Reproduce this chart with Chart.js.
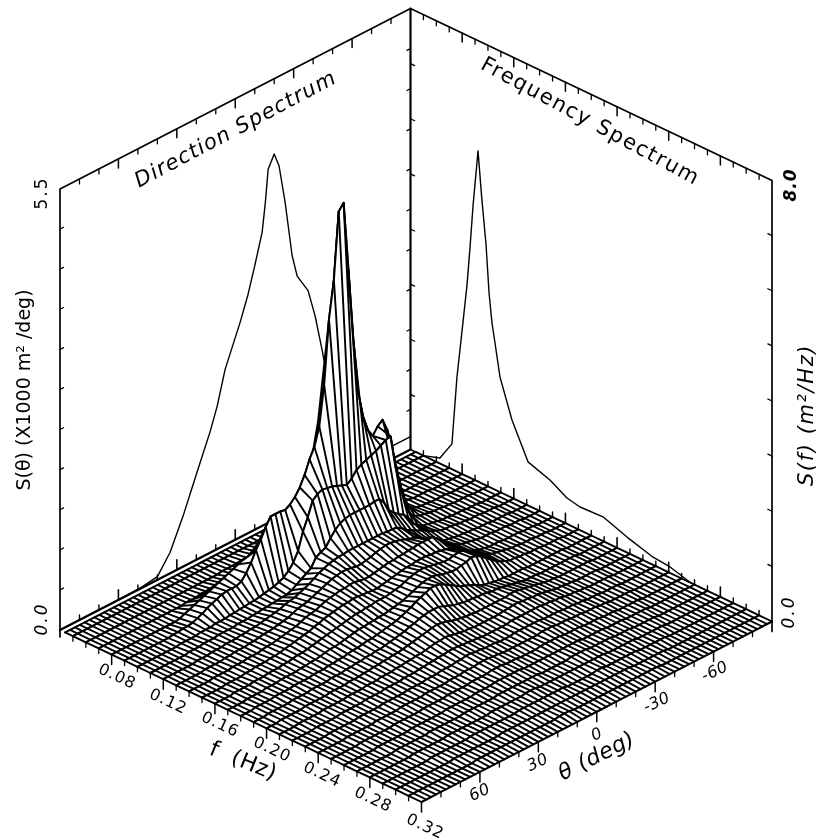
<!DOCTYPE html>
<html><head><meta charset="utf-8">
<style>html,body{margin:0;padding:0;background:#fff}canvas{display:block}</style>
<script src="https://cdn.jsdelivr.net/npm/chart.js@4/dist/chart.umd.min.js"></script>
</head><body><canvas id="c" width="821" height="840"></canvas>
<script>
// frequency rows (Hz) and direction columns (deg) of the surface
const fRows=[0.044,0.05,0.06,0.07,0.08,0.09,0.10,0.11,0.12,0.13,0.14,0.15,0.16,0.17,0.18,0.19,0.20,0.21,0.22,0.23,0.24,0.25,0.26,0.27,0.28,0.29,0.30,0.31,0.32];
const thetaCols=[90,87.5,85,82.5,80,77.5,75,72.5,70,67.5,65,62.5,60,57.5,55,52.5,50,47.5,45,42.5,40,37.5,35,32.5,30,27.5,25,22.5,20,17.5,15,12.5,10,7.5,5,2.5,0,-2.5,-5,-7.5,-10,-12.5,-15,-17.5,-20,-22.5,-25,-27.5,-30,-32.5,-35,-37.5,-40,-42.5,-45,-47.5,-50,-52.5,-55,-57.5,-60,-62.5,-65,-67.5,-70,-72.5,-75,-77.5,-80,-82.5,-85,-87.5,-90];
// surface heights, one list per frequency row, θ = 90 … -90 (wall full scale = 441)
const s00=[];
const s01=[0,0,0,0,0,0,0,0,0,0, 0,0,0,0,0,0,0,0,0,0, 0,0,0,0,0,0,0,0,0,0, 0,0,0,0,0,0,0,0,0,1, 1,1,1,2,2,2,2,1,1,1, 1];
const s02=[0,0,0,0,0,0,0,0,0,0, 0,0,0,0,0,0,0,0,0,0, 0,0,0,0,0,0,0,0,1,1, 1,1,2,2,3,3,4,5,6,7, 8,10,12,14,15,14,10,7,5,3, 2,2,1,1,1];
const s03=[0,0,0,0,0,0,0,0,0,0, 0,0,0,0,0,0,0,0,1,1, 1,2,2,2,3,3,3,4,4,5, 6,7,8,9,10,12,14,16,18,20, 22,26,30,35,40,42,36,28,22,17, 12,9,6,4,3,2,2,1,1,1, 1];
const s04=[0,0,0,0,0,0,0,0,0,0, 0,0,0,0,1,3,5,7,9,11, 13,15,17,19,21,23,25,27,28,29, 30,31,31,32,35,38,42,48,55,62, 75,90,110,130,150,160,135,105,80,60, 48,50,55,58,55,40,22,10,5,3, 2,2,1,1,1,1];
const s05=[0,0,0,0,0,0,0,0,0,0, 1,1,2,2,3,5,7,10,12,14, 16,17,17,17,19,25,33,43,51,61, 69,69,69,68,71,76,83,93,106,116, 134,173,236,273,339,345,275,203,148,121, 105,97,104,108,95,73,45,23,10,5, 3,2,2,1,1,1,1];
const s06=[0,0,0,0,0,0,0,0,0,1, 1,1,1,2,2,2,3,3,3,4, 4,5,5,6,6,7,8,9,10,12, 14,18,24,33,50,62,76,80,82,81, 80,78,76,74,78,84,87,89,91,93, 96,99,100,67,46,24,12,8,6,5, 4,3,3,2,2,1,1,1,1];
const s07=[0,0,0,0,0,0,0,0,1,1, 1,2,2,2,3,3,3,3,4,4, 4,5,5,6,6,7,7,8,8,10, 13,16,19,22,30,33,35,42,48,52, 54,55,55,55,55,55,56,56,50,40, 35,31,28,22,14,10,7,6,5,4, 3,3,2,2,2,1,1,1];
const s08=[0,0,0,0,0,0,0,1,1,1, 2,2,2,3,3,3,4,4,5,5, 6,7,8,9,10,12,13,14,16,18, 20,23,26,28,30,31,32,32,33,33, 33,33,33,33,33,33,32,32,31,28, 24,21,18,16,13,10,8,6,5,5, 4,3,3,2,2,2,1,1,1];
const s09=[0,0,0,0,0,0,1,1,1,1, 2,2,3,3,3,4,4,5,6,6, 7,8,9,10,12,14,15,16,18,20, 22,24,26,27,28,28,27,26,26,27, 28,30,31,32,32,31,30,28,26,25, 22,18,15,12,9,7,6,5,4,4, 3,3,2,2,2,1,1,1,1];
const s10=[0,0,0,0,0,1,1,1,1,2, 2,2,3,3,3,4,5,5,6,7, 8,9,10,12,14,15,16,18,20,21, 22,23,23,24,24,23,22,22,23,24, 25,26,26,27,27,28,28,29,29,29, 29,25,20,16,12,9,7,6,5,4, 3,3,3,2,2,2,1,1,1];
const s11=[0,0,0,0,0,1,1,1,1,2, 2,3,3,3,4,4,5,6,7,8, 9,10,11,13,14,16,17,18,19,20, 20,21,21,20,20,19,19,20,21,22, 23,24,25,25,26,26,26,25,25,24, 23,21,18,15,12,9,7,5,4,3, 3,3,2,2,2,2,1,1,1];
const s12=[0,0,0,0,1,1,1,1,2,2, 2,3,3,3,4,4,5,6,6,7, 8,9,10,11,12,13,14,15,16,17, 17,18,18,19,19,19,20,21,22,24, 26,27,28,28,27,26,25,24,24,25, 26,25,22,19,15,12,9,7,6,5, 4,3,3,2,2,2,1,1,1];
const s13=[0,0,0,0,1,1,1,1,2,2, 2,3,3,3,3,4,4,5,5,6, 7,8,8,9,10,11,12,13,13,14, 14,15,15,16,17,18,19,21,23,25, 27,28,28,27,25,24,23,23,24,25, 27,26,23,19,15,11,8,6,4,4, 3,3,2,2,2,1,1,1,1];
const s14=[0,0,0,1,1,1,1,2,2,2, 2,3,3,3,3,4,4,4,5,5, 6,6,7,8,8,9,10,10,11,12, 13,14,15,17,19,21,24,26,28,30, 30,29,26,23,20,17,15,13,11,8, 6,5,4,3,3,2,2,2,2,1, 1,1,1,1,1,1,1];
const s15=[0,0,0,1,1,1,1,1,2,2, 2,2,3,3,3,3,4,4,4,5, 5,6,6,7,7,8,8,9,10,11, 12,13,15,16,18,19,20,20,20,18, 16,14,13,12,11,11,10,10,9,8, 8,7,6,5,4,3,2,2,2,1, 1,1,1,1,1,1,1];
const s16=[0,0,0,1,1,1,1,1,2,2, 2,2,2,3,3,3,3,4,4,4, 5,5,6,6,7,7,8,8,9,10, 11,12,13,14,15,16,15,14,12,11, 10,9,9,8,8,8,8,8,8,8, 9,9,8,7,6,5,4,3,2,2, 1,1,1,1,1,1,1];
const s17=[0,0,0,0,1,1,1,1,1,2, 2,2,2,2,3,3,3,3,4,4, 4,5,5,5,6,6,7,7,8,8, 9,10,11,11,12,11,10,9,8,8, 7,7,7,7,7,7,8,8,9,9, 8,8,7,7,6,5,4,3,3,2, 2,1,1,1,1,1];
const s18=[0,0,0,0,0,1,1,1,1,1, 2,2,2,2,2,3,3,3,3,4, 4,4,4,5,5,5,6,6,7,7, 8,8,9,9,9,8,8,7,7,6, 6,6,6,6,6,7,7,7,7,7, 7,7,6,6,5,5,4,3,3,2, 2,1,1,1,1,1];
const s19=[0,0,0,0,0,1,1,1,1,1, 1,2,2,2,2,2,3,3,3,3, 3,4,4,4,4,5,5,5,6,6, 6,7,7,8,8,7,7,6,6,6, 5,5,5,6,6,6,6,6,6,5, 5,5,5,4,4,4,3,3,2,2, 2,1,1,1,1];
const s20=[0,0,0,0,0,0,1,1,1,1, 1,1,2,2,2,2,2,3,3,3, 3,3,4,4,4,4,4,5,5,5, 6,6,6,7,7,7,6,6,5,5, 5,5,5,5,5,5,6,6,6,5, 5,5,4,4,4,3,3,3,2,2, 1,1,1,1,1];
const s21=[0,0,0,0,0,0,1,1,1,1, 1,1,1,2,2,2,2,2,2,3, 3,3,3,3,4,4,4,4,4,5, 5,5,5,6,6,6,5,5,5,4, 4,4,4,5,5,5,5,5,4,4, 4,4,3,3,3,3,2,2,2,1, 1,1,1,1];
const s22=[0,0,0,0,0,0,0,1,1,1, 1,1,1,1,2,2,2,2,2,2, 2,3,3,3,3,3,3,4,4,4, 4,5,5,5,5,5,5,4,4,4, 4,4,4,4,4,4,4,4,4,3, 3,3,3,3,2,2,2,2,1,1, 1,1,1];
const s23=[0,0,0,0,0,0,0,0,1,1, 1,1,1,1,1,2,2,2,2,2, 2,2,3,3,3,3,3,3,3,4, 4,4,4,4,4,4,4,4,3,3, 3,3,3,3,4,4,4,4,3,3, 3,3,3,2,2,2,2,1,1,1, 1,1];
const s24=[0,0,0,0,0,0,0,0,0,1, 1,1,1,1,1,1,2,2,2,2, 2,2,2,2,2,3,3,3,3,3, 3,3,4,4,4,3,3,3,3,3, 3,3,3,3,3,3,3,3,3,2, 2,2,2,2,2,1,1,1,1,1, 1];
const s25=[0,0,0,0,0,0,0,0,0,0, 1,1,1,1,1,1,1,1,2,2, 2,2,2,2,2,2,2,2,3,3, 3,3,3,3,3,3,3,3,2,2, 2,2,2,2,3,3,2,2,2,2, 2,2,2,1,1,1,1,1,1];
const s26=[0,0,0,0,0,0,0,0,0,0, 0,0,1,1,1,1,1,1,1,1, 1,1,2,2,2,2,2,2,2,2, 2,2,2,2,2,2,2,2,2,2, 2,2,2,2,2,2,2,2,2,1, 1,1,1,1,1,1];
const s27=[0,0,0,0,0,0,0,0,0,0, 0,0,0,0,1,1,1,1,1,1, 1,1,1,1,1,1,1,1,1,1, 1,2,2,2,1,1,1,1,1,1, 1,1,1,1,1,1,1,1,1,1, 1,1];
const s28=[];
const surface=[s00,s01,s02,s03,s04,s05,s06,s07,s08,s09,s10,s11,s12,s13,s14,s15,s16,s17,s18,s19,s20,s21,s22,s23,s24,s25,s26,s27,s28];

// projection on the walls: direction spectrum S(θ), ×1000 m²/deg
const dirTheta=[90,60,48,40,33.5,26.8,19.6,12.9,9.3,5.2,-2.5,-6.6,-10.2,-13.8,-15.4,-16.9,-20,-22.5,-25.6,-29.2,-31.8,-37.4,-41,-44.6,-46.7,-52,-60,-70,-80,-90];
const dirValue=[0,0,0.01,0.04,0.26,0.63,1.09,1.51,1.78,2.19,2.68,2.98,3.31,3.66,4.0,4.41,4.56,4.38,3.89,3.18,2.89,2.64,2.28,1.81,1.51,1.0,0.6,0.3,0.16,0.16];
// frequency spectrum S(f), m²/Hz
const freqF=[0.04,0.05,0.0628,0.0721,0.076,0.0806,0.0838,0.0861,0.0884,0.0923,0.0953,0.0985,0.1008,0.1031,0.1054,0.1093,0.1186,0.131,0.148,0.1612,0.1713,0.1891,0.2077,0.2279,0.2411,0.257];
const freqValue=[0,0,0.10,0.46,1.72,2.75,3.48,4.18,4.95,6.0,5.15,4.37,3.53,3.0,2.67,2.09,1.41,0.79,0.65,0.47,0.42,0.44,0.28,0.14,0.11,0];

const fMajorTicks=[0.08,0.12,0.16,0.20,0.24,0.28,0.32];
const fMinorTicks=[0.05,0.06,0.07,0.09,0.10,0.11,0.13,0.14,0.15,0.17,0.18,0.19,0.21,0.22,0.23,0.25,0.26,0.27,0.29,0.30,0.31];
const thetaMajorTicks=[60,30,0,-30,-60];
const thetaMinorTicks=[80,70,50,40,20,10,-10,-20,-40,-50,-70,-80];
const sThetaTicks=[0.5,1,1.5,2,2.5,3,3.5,4,4.5,5];
const sFreqTicks=[1,2,3,4,5,6,7];

const WALL=441, SDIR=WALL/5.5, SFREQ=WALL/8;
function P(f,t,z){const u=(f-0.04)/0.28,v=(90-t)/180;return {x:60+361.5*u+350.5*v,y:630+172*u-180.5*v-(z||0)};}
const GAP={x:NaN,y:NaN};
const ds=[];
function line(data,w){ds.push({type:'scatter',showLine:true,data,borderColor:'#000',borderWidth:w,pointRadius:0,fill:false,tension:0,borderCapStyle:'round',borderJoinStyle:'round'});}
function poly(data){ds.push({type:'scatter',showLine:true,data,borderColor:'rgba(0,0,0,0)',borderWidth:0,pointRadius:0,backgroundColor:'#fff',fill:'shape',tension:0});}
function ticks(list,fn){const a=[];list.forEach(t=>{a.push(...fn(t),GAP);});return a;}

// walls
line([P(0.04,90,-7),P(0.04,90,WALL),P(0.04,-90,WALL),P(0.32,-90,WALL),P(0.32,-90,-10)],1.7);
line([P(0.04,-90,0),P(0.04,-90,WALL)],2.2);
line([P(0.04,90,0),P(0.04,-90,0)],2.4);
line(ticks(thetaMajorTicks,t=>[P(0.04,t,WALL),P(0.04,t,WALL-9)]),1.5);
line(ticks(thetaMinorTicks,t=>[P(0.04,t,WALL),P(0.04,t,WALL-5)]),1.3);
line(ticks(fMajorTicks.slice(0,6),f=>[P(f,-90,WALL),P(f,-90,WALL-9)]),1.5);
line(ticks(fMinorTicks,f=>[P(f,-90,WALL),P(f,-90,WALL-5)]),1.3);
line(ticks(thetaMajorTicks,t=>[P(0.04,t,0),P(0.04,t,10)]),1.6);
line(ticks(thetaMinorTicks,t=>[P(0.04,t,0),P(0.04,t,5)]),1.4);
line(ticks(fMajorTicks.slice(0,6),f=>[P(f,-90,0),P(f,-90,10)]),1.6);
line(ticks(fMinorTicks,f=>[P(f,-90,0),P(f,-90,5)]),1.4);
line(ticks(sThetaTicks,s=>[P(0.04,90,s*SDIR),P(0.04,88.2,s*SDIR)]),1.3);
line(ticks(sThetaTicks,s=>[P(0.04,-90,s*SDIR),P(0.04,-88.2,s*SDIR)]),1.3);
line(ticks(sFreqTicks,s=>[P(0.04,-90,s*SFREQ),P(0.0432,-90,s*SFREQ)]),1.3);
line(ticks(sFreqTicks,s=>[P(0.32,-90,s*SFREQ),P(0.3168,-90,s*SFREQ)]),1.3);
// wall spectra
line(dirTheta.map((t,i)=>P(0.04,t,dirValue[i]*SDIR)),1.4);
line(freqF.map((f,i)=>P(f,-90,freqValue[i]*SFREQ)),1.4);

// hidden-line surface, back to front
const Z=(i,c)=>surface[i][c]||0;
const rowPts=(i)=>thetaCols.map((t,c)=>P(fRows[i],t,Z(i,c)));
for(let i=0;i<fRows.length-1;i++){
  const a=rowPts(i),b=rowPts(i+1);
  poly(a.concat(b.slice().reverse()));
  const h=[];a.forEach((p,c)=>{h.push(p,b[c],GAP);});
  line(h,1.9);
  line(a,2);
  line(b,2);
}
// edge ticks at the front of the floor
line(ticks(fMajorTicks,f=>[P(f,90,0),P(f,90,-10)]),1.5);
line(ticks(fMinorTicks,f=>[P(f,90,0),P(f,90,-5)]),1.3);
line(ticks(thetaMajorTicks,t=>[P(0.32,t,0),P(0.32,t,-10)]),1.5);
line(ticks(thetaMinorTicks,t=>[P(0.32,t,0),P(0.32,t,-5)]),1.3);

const labels=[
 ['Direction Spectrum',236,130,-28,'oblique 21px "DejaVu Sans"','1.2px'],
 ['Frequency Spectrum',590,122,28.5,'21px "DejaVu Sans"','1.6px'],
 ['S(θ) (X1000 m² /deg)',25,390,-90,'19px "DejaVu Sans"','0px'],
 ['S(f) (m²/Hz)',808,415,-90,'oblique 21px "DejaVu Sans"','1.6px'],
 ['5.5',43,193,-90,'17px "DejaVu Sans"','2px'],
 ['0.0',43,619,-90,'oblique 17px "DejaVu Sans"','2px'],
 ['8.0',792,185,-90,'bold oblique 17px "DejaVu Sans"','1px'],
 ['0.0',790,612,-90,'oblique 17px "DejaVu Sans"','2px'],
 ['0.08',117,677,25,'16px "DejaVu Sans"','1px'],
 ['0.12',168,702,25,'16px "DejaVu Sans"','1px'],
 ['0.16',220,725,25,'16px "DejaVu Sans"','1px'],
 ['0.20',272,750,25,'16px "DejaVu Sans"','1px'],
 ['0.24',322,775,25,'16px "DejaVu Sans"','1px'],
 ['0.28',373,800,25,'16px "DejaVu Sans"','1px'],
 ['0.32',425,827,25,'16px "DejaVu Sans"','1px'],
 ['f  (Hz)',243,762,22,'22px "DejaVu Sans"','0.5px'],
 ['60',480,793,-25,'oblique 16px "DejaVu Sans"','0.5px'],
 ['30',538,763,-25,'oblique 16px "DejaVu Sans"','0.5px'],
 ['0',597,735,-25,'oblique 16px "DejaVu Sans"','0.5px'],
 ['-30',657,703,-25,'oblique 16px "DejaVu Sans"','0.5px'],
 ['-60',715,672,-25,'oblique 16px "DejaVu Sans"','0.5px'],
 ['θ (deg)',597,757,-27,'oblique 22px "DejaVu Sans"','0.5px']
];
const textPlugin={id:'text',afterDatasetsDraw(ch){const c=ch.ctx;labels.forEach(l=>{c.save();c.translate(l[1],l[2]);c.rotate(l[3]*Math.PI/180);c.font=l[4];c.letterSpacing=l[5];c.fillStyle='#000';c.textAlign='center';c.textBaseline='middle';c.fillText(l[0],0,0);c.restore();});}};
const bg={id:'bg',beforeDraw(ch){ch.ctx.fillStyle='#fff';ch.ctx.fillRect(0,0,821,840);}};

new Chart(document.getElementById('c'),{type:'scatter',data:{datasets:ds.slice().reverse()},plugins:[bg,textPlugin],
 options:{responsive:false,animation:false,parsing:true,normalized:true,layout:{padding:0},events:[],
  scales:{x:{type:'linear',display:false,min:0,max:821},y:{type:'linear',display:false,min:0,max:840,reverse:true}},
  plugins:{legend:{display:false},tooltip:{enabled:false},title:{display:false}}}});
</script></body></html>
